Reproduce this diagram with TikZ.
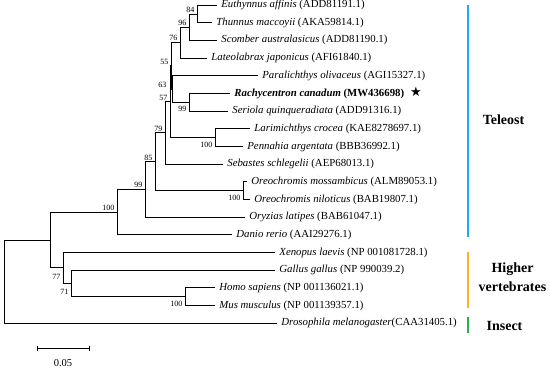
\documentclass[tikz,border=0pt]{standalone}
\usepackage{fontspec}
\setmainfont{Liberation Serif}
\newfontfamily\symfont{DejaVu Sans}
\usetikzlibrary{arrows.meta}
\definecolor{teleblue}{RGB}{30,170,238}
\definecolor{vertorange}{RGB}{250,182,40}
\definecolor{insgreen}{RGB}{40,176,76}

\begin{document}
\begin{tikzpicture}[x=1pt,y=-1pt,line width=0.8pt,
  leaf/.style={anchor=west,inner sep=0pt,xshift=4pt,font=\fontsize{10.8}{12}\selectfont},
  bsa/.style={anchor=south east,inner sep=0.3pt,xshift=-2pt,yshift=0.8pt,font=\fontsize{8}{9}\selectfont},
  bsb/.style={anchor=north east,inner sep=0.3pt,xshift=-2pt,yshift=-3.5pt,font=\fontsize{8}{9}\selectfont},
  group/.style={font=\fontsize{14}{19}\selectfont\bfseries,align=center},
  gbar/.style={line width=2pt}]
  \useasboundingbox (0,0) rectangle (550,368);
  % hojas
  \coordinate (euth) at (217,5);
  \coordinate (thun) at (212,22.7);
  \coordinate (scom) at (217,40.3);
  \coordinate (late) at (207,58);
  \coordinate (para) at (258,75.7);
  \coordinate (rach) at (230,93.3);
  \coordinate (seri) at (228,111);
  \coordinate (lari) at (250,128.7);
  \coordinate (penn) at (243,146.4);
  \coordinate (seba) at (223,164);
  \coordinate (omos) at (247,181.7);
  \coordinate (onil) at (250,199.4);
  \coordinate (oryz) at (245,217);
  \coordinate (dani) at (232,234.7);
  \coordinate (xeno) at (275,252.4);
  \coordinate (gall) at (275,270);
  \coordinate (homo) at (215,287.7);
  \coordinate (mus) at (215,305.4);
  \coordinate (dros) at (277,323);
  % nodos internos
  \coordinate (n84) at (197,13.9);
  \coordinate (n96) at (189,27.1);
  \coordinate (n76) at (180,42.5);
  \coordinate (nRS) at (189,102.2);
  \coordinate (n63) at (172,88.9);
  \coordinate (n55) at (171,65.7);
  \coordinate (nLP) at (215,137.5);
  \coordinate (n57) at (170,101.6);
  \coordinate (n79) at (165,132.8);
  \coordinate (nOr) at (243,190.5);
  \coordinate (n85) at (155,161.7);
  \coordinate (n99) at (145,189.3);
  \coordinate (nF) at (117,212);
  \coordinate (nHM) at (185,296.5);
  \coordinate (n71) at (71,283.3);
  \coordinate (n77) at (63,267.8);
  \coordinate (nA) at (50,239.9);
  \coordinate (root) at (4,281.5);
  % ramas
  \draw (n84) |- (euth) (n84) |- (thun);
  \draw (n96) |- (n84) (n96) |- (scom);
  \draw (n76) |- (n96) (n76) |- (late);
  \draw (nRS) |- (rach) (nRS) |- (seri);
  \draw (n63) |- (para) (n63) |- (nRS);
  \draw (n55) |- (n76) (n55) |- (n63);
  \draw (nLP) |- (lari) (nLP) |- (penn);
  \draw (n57) |- (n55) (n57) |- (nLP);
  \draw (n79) |- (n57) (n79) |- (seba);
  \draw (nOr) |- (omos) (nOr) |- (onil);
  \draw (n85) |- (n79) (n85) |- (nOr);
  \draw (n99) |- (n85) (n99) |- (oryz);
  \draw (nF) |- (n99) (nF) |- (dani);
  \draw (nHM) |- (homo) (nHM) |- (mus);
  \draw (n71) |- (gall) (n71) |- (nHM);
  \draw (n77) |- (xeno) (n77) |- (n71);
  \draw (nA) |- (nF) (nA) |- (n77);
  \draw (root) |- (nA) (root) |- (dros);
  % nombres
  \node[leaf] (teuth) at (euth) {\textit{Euthynnus affinis} (ADD81191.1)};
  \node[leaf] (tthun) at (thun) {\textit{Thunnus maccoyii} (AKA59814.1)};
  \node[leaf] (tscom) at (scom) {\textit{Scomber australasicus} (ADD81190.1)};
  \node[leaf] (tlate) at (late) {\textit{Lateolabrax japonicus} (AFI61840.1)};
  \node[leaf] (tpara) at (para) {\textit{Paralichthys olivaceus} (AGI15327.1)};
  \node[leaf] (trach) at (rach) {\textbf{\textit{Rachycentron canadum} (MW436698)}\hspace{6pt}{\symfont\fontsize{13}{13}\selectfont ★}};
  \node[leaf] (tseri) at (seri) {\textit{Seriola quinqueradiata} (ADD91316.1)};
  \node[leaf] (tlari) at (lari) {\textit{Larimichthys crocea} (KAE8278697.1)};
  \node[leaf] (tpenn) at (penn) {\textit{Pennahia argentata} (BBB36992.1)};
  \node[leaf] (tseba) at (seba) {\textit{Sebastes schlegelii} (AEP68013.1)};
  \node[leaf] (tomos) at (omos) {\textit{Oreochromis mossambicus} (ALM89053.1)};
  \node[leaf] (tonil) at (onil) {\textit{Oreochromis niloticus} (BAB19807.1)};
  \node[leaf] (toryz) at (oryz) {\textit{Oryzias latipes} (BAB61047.1)};
  \node[leaf] (tdani) at (dani) {\textit{Danio rerio} (AAI29276.1)};
  \node[leaf] (txeno) at (xeno) {\textit{Xenopus laevis} (NP 001081728.1)};
  \node[leaf] (tgall) at (gall) {\textit{Gallus gallus} (NP 990039.2)};
  \node[leaf] (thomo) at (homo) {\textit{Homo sapiens} (NP 001136021.1)};
  \node[leaf] (tmus) at (mus) {\textit{Mus musculus} (NP 001139357.1)};
  \node[leaf] (tdros) at (dros) {\textit{Drosophila melanogaster}(CAA31405.1)};
  % bootstrap
  \node[bsa] (b84) at (n84) {84};
  \node[bsa] (b96) at (n96) {96};
  \node[bsa] (b76) at (n76) {76};
  \node[bsa] (b55) at (n55) {55};
  \node[bsa,xshift=-3pt] (b63) at (n63) {63};
  \node[bsa] (b57) at (n57) {57};
  \node[bsa] (b79) at (n79) {79};
  \node[bsa] (b85) at (n85) {85};
  \node[bsa] (b99) at (n99) {99};
  \node[bsa] (bF) at (nF) {100};
  \node[bsb] (bRS) at (nRS) {99};
  \node[bsb] (bLP) at (nLP) {100};
  \node[bsb] (bOr) at (nOr) {100};
  \node[bsb] (bHM) at (nHM) {100};
  \node[bsb,yshift=-2pt] (b77) at (n77) {77};
  \node[bsb,yshift=-2pt] (b71) at (n71) {71};
  % escala
  \coordinate (sc1) at (37,348);
  \coordinate (sc2) at (90,348);
  \draw[{Bar[width=5pt]}-{Bar[width=5pt]}] (sc1) -- (sc2);
  \node[font=\fontsize{10.5}{12}\selectfont] (sclab) at (63,363) {0.05};
  % grupos
  \coordinate (tel1) at (468,5);
  \coordinate (tel2) at (468,237);
  \coordinate (ver1) at (468,252);
  \coordinate (ver2) at (468,308);
  \coordinate (ins1) at (468,317);
  \coordinate (ins2) at (468,333);
  \draw[gbar,teleblue] (tel1) -- (tel2);
  \draw[gbar,vertorange] (ver1) -- (ver2);
  \draw[gbar,insgreen] (ins1) -- (ins2);
  \node[group] (gtel) at (503.5,120) {Teleost};
  \node[group] (gver) at (512.5,277.5) {Higher\\vertebrates};
  \node[group] (gins) at (504.5,326) {Insect};
\end{tikzpicture}
\end{document}
